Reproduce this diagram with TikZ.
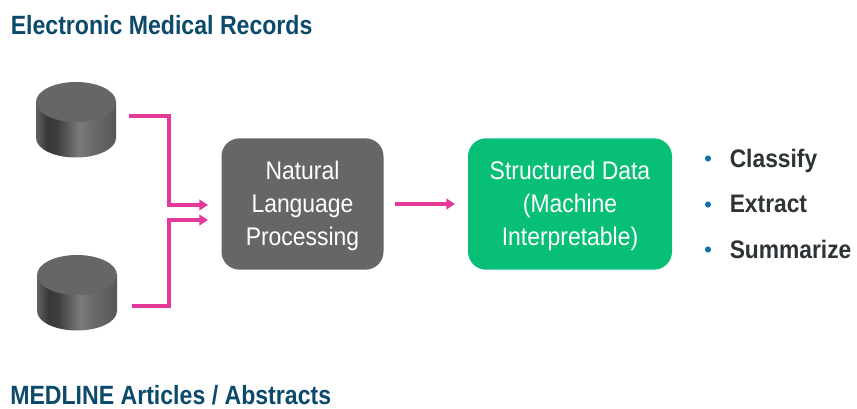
\documentclass[tikz,border=0pt]{standalone}
\usepackage{fontspec}
\setmainfont{Liberation Sans}
\newfontfamily\narrowfont[FakeStretch=0.9]{Liberation Sans}
\newfontfamily\headfont[FakeStretch=0.875]{Liberation Sans}
\usetikzlibrary{arrows.meta}
\definecolor{titleblue}{HTML}{0B4A6B}
\definecolor{flowpink}{HTML}{E5399A}
\definecolor{boxgray}{HTML}{666666}
\definecolor{boxgreen}{HTML}{08BF77}
\definecolor{bulletblue}{HTML}{0F70AE}
\definecolor{listdark}{HTML}{2E3336}
\definecolor{cyltop}{HTML}{666666}
\pgfdeclarehorizontalshading{cylside}{100bp}{
  color(0bp)=(black!65);
  color(25bp)=(black!62);
  color(32bp)=(black!78);
  color(38bp)=(black!76);
  color(52bp)=(black!52);
  color(60bp)=(black!58);
  color(75bp)=(black!66);
  color(100bp)=(black!66)}
\tikzset{
  heading/.style={anchor=base west,inner sep=0pt,text=titleblue,font=\headfont\bfseries\fontsize{19.8pt}{22pt}\selectfont},
  procbox/.style={rounded corners=13.5pt,minimum height=98.5pt,text=white,align=center,inner sep=0pt,
     font=\narrowfont\fontsize{19.1pt}{25pt}\selectfont},
  flow/.style={draw=flowpink,line width=2.5pt,-{Triangle[length=6.5pt,width=8pt]}},
  listitem/.style={anchor=base west,inner sep=0pt,text=listdark,font=\narrowfont\bfseries\fontsize{19pt}{21pt}\selectfont},
  bullet/.style={circle,fill=bulletblue,inner sep=0pt,minimum size=4.6pt},
  dbanchor/.style={inner sep=0pt,minimum width=60pt,minimum height=56pt}
}
\newcommand{\dbcyl}[2]{% centre x, top y (px)
  \begin{scope}[shift={(#1,#2)}]
    \shade[shading=cylside]
      (-40,20) -- (-40,56) arc[x radius=40,y radius=19.5,start angle=180,end angle=0] -- (40,20) -- cycle;
    \fill[cyltop] (0,20) ellipse[x radius=40,y radius=20];
  \end{scope}}
\begin{document}
\begin{tikzpicture}[x=0.75pt,y=-0.75pt]
\useasboundingbox (0,0) rectangle (857,409);
\fill[white] (0,0) rectangle (857,409);
\node[heading] (emr) at (10.5,35) {Electronic Medical Records};
\node[heading] (medline) at (10,404.5) {MEDLINE Articles / Abstracts};
\dbcyl{76}{82}
\dbcyl{77}{255}
\node[dbanchor] (db1) at (76,119.5) {};
\node[dbanchor] (db2) at (77,293) {};
\node[procbox,fill=boxgray,minimum width=121.5pt] (nlp) at (302.5,204) {\rule{0pt}{16.5pt}Natural\\Language\\Processing};
\node[procbox,fill=boxgreen,minimum width=153pt] (sd) at (570,204) {\rule{0pt}{16.5pt}Structured Data\\(Machine\\Interpretable)};
\coordinate (s1) at (129,116);
\coordinate (s2) at (132,306);
\coordinate (t1) at (208,205);
\coordinate (t2) at (208,220);
\coordinate (m1) at (395,204);
\coordinate (m2) at (455,204);
\draw[flow] (s1) -- (169,116) -- (169,205) -- (t1);
\draw[flow] (s2) -- (169,306) -- (169,220) -- (t2);
\draw[flow] (m1) -- (m2);
\node[bullet] (b1) at (708,158.5) {};
\node[bullet] (b2) at (708,204.5) {};
\node[bullet] (b3) at (708,249.5) {};
\node[listitem] (l1) at (729.5,167.5) {Classify};
\node[listitem] (l2) at (729.5,213) {Extract};
\node[listitem] (l3) at (729.5,258.5) {Summarize};
\end{tikzpicture}
\end{document}
